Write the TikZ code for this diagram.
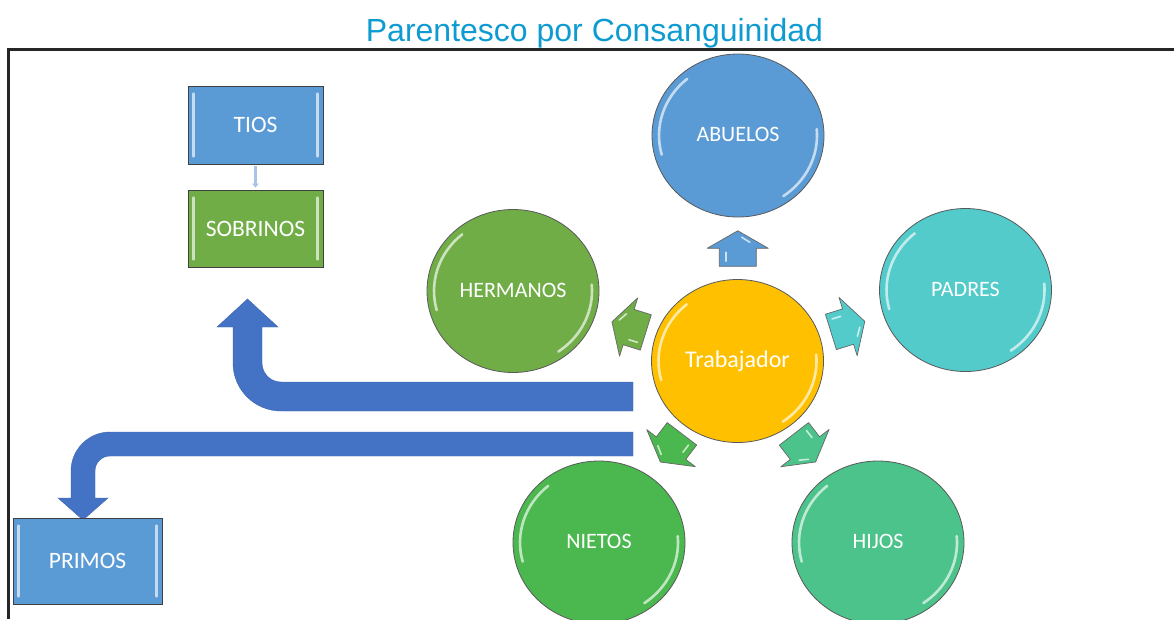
\documentclass[tikz,border=0pt]{standalone}
\usepackage{fontspec}
\setmainfont{Carlito}
\newfontfamily\titlefont{Liberation Sans}
\usetikzlibrary{shapes.geometric,calc,arrows.meta}

\definecolor{cblue}{HTML}{5B9BD5}
\definecolor{cteal}{HTML}{53CBCB}
\definecolor{cmint}{HTML}{4BC38B}
\definecolor{cgreen}{HTML}{4AB84F}
\definecolor{colive}{HTML}{70AD47}
\definecolor{cgold}{HTML}{FFC000}
\definecolor{cdark}{HTML}{4472C4}
\definecolor{ctitle}{HTML}{0E9BD2}
\definecolor{clink}{HTML}{A9C4E8}

\newcommand\glossarcs[1]{%
  \draw[gloss] ([shift={(-130:79 and 74)}]#1.center) arc[start angle=-130, end angle=-195, x radius=79, y radius=74];
  \draw[gloss] ([shift={(55:79 and 74)}]#1.center) arc[start angle=55, end angle=-5, x radius=79, y radius=74];}
\newcommand\boxgloss[1]{%
  \draw[gloss] ([xshift=6pt,yshift=-8pt]#1.north west) -- ([xshift=6pt,yshift=8pt]#1.south west);
  \draw[gloss] ([xshift=-6pt,yshift=-8pt]#1.north east) -- ([xshift=-6pt,yshift=8pt]#1.south east);}

\tikzset{pics/petal/.style={code={%
  \path[pic actions] (0,-17.5) -- (30.5,0) -- (18.5,0) -- (18.5,18) -- (-18.5,18) -- (-18.5,0) -- (-30.5,0) -- cycle;
  \draw[white, line width=1.6pt, opacity=0.7, line cap=round] (-12,4) -- (-12,13);
  \draw[white, line width=1.6pt, opacity=0.7, line cap=round] (4,-11) -- (12,-6);}}}

\begin{document}
\begin{tikzpicture}[x=1pt,y=-1pt,
  circ/.style={ellipse, draw=black!65, line width=0.8pt, minimum width=172pt, minimum height=163pt, inner sep=0pt},
  clabel/.style={anchor=base, text=white, font=\fontsize{22}{26}\selectfont, inner sep=0pt},
  boxnode/.style={rectangle, draw=black!75, line width=0.8pt, inner sep=0pt, text=white, font=\fontsize{23.5}{28}\selectfont},
  bigarrow/.style={fill=cdark, draw=cdark!90!black, line width=0.4pt},
  petalstyle/.style={draw=black!60, line width=0.7pt, line join=round},
  gloss/.style={draw=white, line width=2.6pt, opacity=0.65, line cap=round},
]
\useasboundingbox (0,0) rectangle (1174,619);
\fill[white] (0,0) rectangle (1174,619);

% title
\node[anchor=base, text=ctitle, inner sep=0pt, font=\titlefont\fontsize{32}{36}\selectfont] (title) at (594.5,41) {Parentesco por Consanguinidad};

% frame
\draw[black!85, line width=2.5pt] (8.5,619) -- (8.5,49.5) -- (1174,49.5);

% big bent arrows
\fill[bigarrow] (633,382) -- (281,382) .. controls (270.5,382) and (262,373.5) .. (262,363) -- (262,327) -- (278,327) -- (247.5,299) -- (217,327) -- (233,327) -- (233,363) .. controls (233,389.5) and (254.5,411) .. (281,411) -- (633,411) -- cycle;
\fill[bigarrow] (633,432) -- (110,432) .. controls (88.5,432) and (71,449.5) .. (71,471) -- (71,498) -- (58,498) -- (83,520) -- (108,498) -- (95,498) -- (95,471) .. controls (95,462.7) and (101.7,456) .. (110,456) -- (633,456) -- cycle;

% boxes
\node[boxnode, fill=cblue, minimum width=135pt, minimum height=78pt] (tios) at (255.5,125) {TIOS};
\node[boxnode, fill=colive, minimum width=135pt, minimum height=77pt] (sobrinos) at (255.5,228.5) {SOBRINOS};
\node[boxnode, fill=cblue, minimum width=149pt, minimum height=86pt] (primos) at (87.5,561) {PRIMOS};
\boxgloss{tios}
\boxgloss{sobrinos}
\boxgloss{primos}
\draw[clink, line width=2.5pt, shorten <=2pt, shorten >=2pt, -{Triangle[length=4pt,width=6.5pt]}] (tios.south) -- (sobrinos.north);

% circles
\node[circ, fill=cblue] (abuelos) at (738,135.5) {};
\node[circ, fill=cteal] (padres) at (965.5,290) {};
\node[circ, fill=cmint] (hijos) at (878,542.5) {};
\node[circ, fill=cgreen] (nietos) at (599,542.5) {};
\node[circ, fill=colive] (hermanos) at (513,291) {};
\node[circ, fill=cgold] (trab) at (737.5,361) {};
\glossarcs{abuelos}
\glossarcs{padres}
\glossarcs{hijos}
\glossarcs{nietos}
\glossarcs{hermanos}
\glossarcs{trab}

% labels
\node[clabel] (labuelos) at ([yshift=-6pt]abuelos.center) {ABUELOS};
\node[clabel] (lpadres) at ([yshift=-6pt]padres.center) {PADRES};
\node[clabel] (lhijos) at ([yshift=-6pt]hijos.center) {HIJOS};
\node[clabel] (lnietos) at ([yshift=-6pt]nietos.center) {NIETOS};
\node[clabel] (lhermanos) at ([yshift=-6pt]hermanos.center) {HERMANOS};
\node[clabel, font=\fontsize{24}{28}\selectfont] (ltrab) at ([yshift=-6pt]trab.center) {Trabajador};

% small radial arrows
\pic[petalstyle, fill=cblue, rotate=0] at ($(trab.center)!0.5!(abuelos.center)$) {petal};
\pic[petalstyle, fill=cteal, rotate=-72.7] at ($(trab.center)!0.485!(padres.center)$) {petal};
\pic[petalstyle, fill=cmint, rotate=-142.3] at ($(trab.center)!0.48!(hijos.center)$) {petal};
\pic[petalstyle, fill=cgreen, rotate=142.65] at ($(trab.center)!0.48!(nietos.center)$) {petal};
\pic[petalstyle, fill=colive, rotate=72.7] at ($(trab.center)!0.485!(hermanos.center)$) {petal};
\end{tikzpicture}
\end{document}
